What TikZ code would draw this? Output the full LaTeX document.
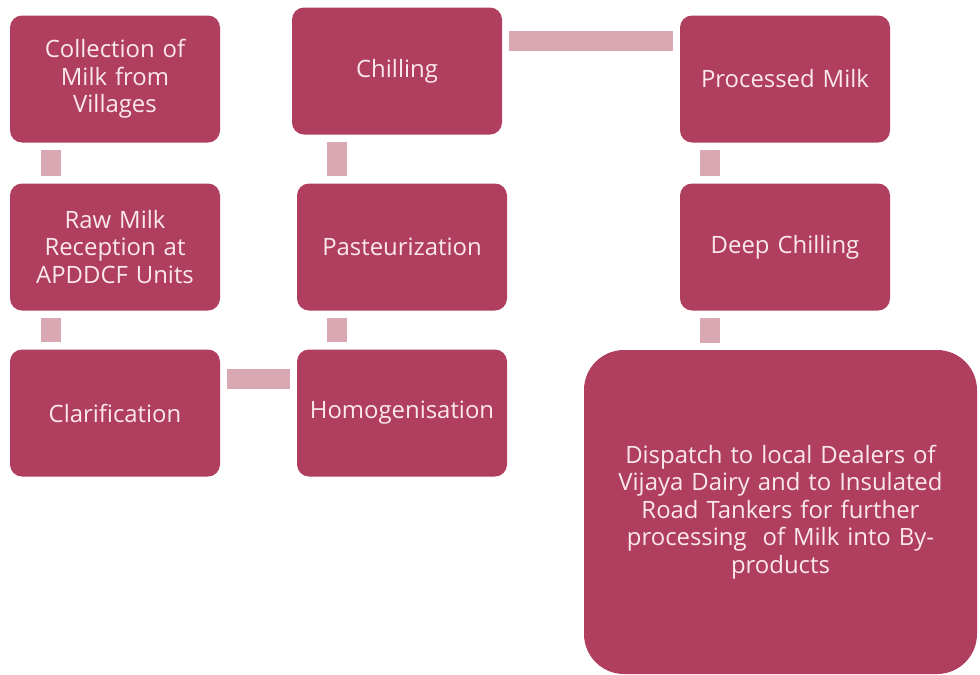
\documentclass[tikz,border=0pt]{standalone}
\usepackage{fontspec}
\setmainfont{Open Sans}
\usepackage{xcolor}
\definecolor{boxred}{RGB}{176,62,94}
\definecolor{linkpink}{RGB}{217,168,178}
\definecolor{textpink}{RGB}{250,232,238}
\tikzset{stage/.style={draw=none,fill=boxred,rounded corners=0.3cm,
  minimum width=5.25cm,minimum height=3.175cm,text width=5cm,align=center,
  text=textpink,font=\fontsize{17}{19.5}\selectfont},
 bigstage/.style={stage,rounded corners=1cm,minimum width=9.825cm,
  minimum height=8.1cm,text width=9.5cm},
 link/.style={draw=linkpink,line width=0.5cm,shorten <=0.17cm,shorten >=0.17cm},
 }

\begin{document}
\begin{tikzpicture}
        \useasboundingbox (0,0) rectangle (24.5,-16.85);
        \node[stage] (coll) at (2.875,-1.975) {Collection of\\ Milk from\\ Villages};
        \node[stage] (raw) at (2.875,-6.175) {Raw Milk\\ Reception at\\ APDDCF Units};
        \node[stage] (clar) at (2.875,-10.325) {Clarification};
        \node[stage] (homo) at (10.05,-10.325) {Homogenisation};
        \node[stage] (past) at (10.05,-6.175) {Pasteurization};
        \node[stage] (chill) at (9.925,-1.775) {Chilling};
        \node[stage] (proc) at (19.625,-1.975) {Processed Milk};
        \node[stage] (deep) at (19.625,-6.175) {Deep Chilling};
        \node[bigstage] (disp) at (19.5125,-12.8) {Dispatch to local Dealers of\\ Vijaya Dairy and to Insulated\\ Road Tankers for further\\ processing~ of Milk into By-\\ products};
        \draw[link] ([xshift=1.025cm]coll.south west) -- ([xshift=1.025cm]raw.north west);
        \draw[link] ([xshift=1.025cm]raw.south west) -- ([xshift=1.025cm]clar.north west);
        \draw[link] ([yshift=-0.75cm]clar.north east) -- ([yshift=-0.75cm]clar.north east -| homo.west);
        \draw[link] ([xshift=1cm]homo.north west) -- ([xshift=1cm]past.south west);
        \draw[link] ([xshift=1cm]past.north west) -- ([xshift=1cm]past.north west |- chill.south);
        \draw[link] ([yshift=-0.85cm]chill.north east) -- ([yshift=-0.65cm]proc.north west);
        \draw[link] ([xshift=0.75cm]proc.south west) -- ([xshift=0.75cm]deep.north west);
        \draw[link] ([xshift=0.75cm]deep.south west) -- ([xshift=0.75cm]deep.south west |- disp.north);
    \end{tikzpicture}
\end{document}
